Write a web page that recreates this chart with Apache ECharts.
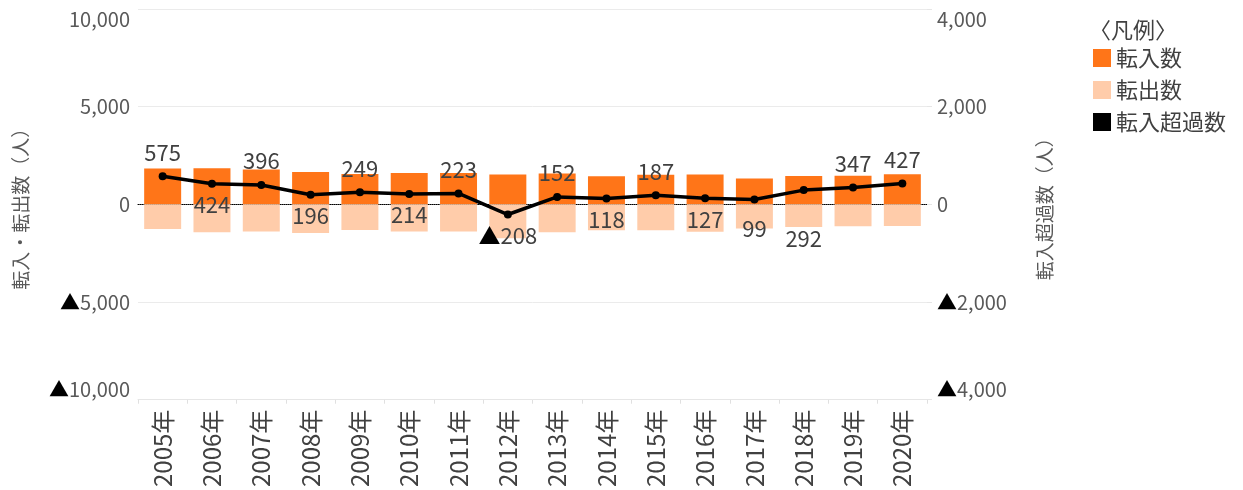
<!DOCTYPE html>
<html>
<head>
<meta charset="utf-8">
<style>
  html, body {
    margin: 0;
    padding: 0;
    background: #fff;
  }
  #main {
    width: 1243px;
    height: 490px;
  }
</style>
<script src="https://cdn.jsdelivr.net/npm/echarts@6/dist/echarts.min.js"></script>
</head>
<body>
<div id="main"></div>
<script>
  // 年別の転入・転出・転入超過
  var years = ['2005年', '2006年', '2007年', '2008年', '2009年', '2010年', '2011年', '2012年',
    '2013年', '2014年', '2015年', '2016年', '2017年', '2018年', '2019年', '2020年']
  var inflow = [1830, 1850, 1780, 1660, 1560, 1600, 1610, 1530, 1580, 1440, 1515, 1530, 1330, 1455, 1470, 1540]
  var outflow = [1255, 1426, 1384, 1464, 1311, 1386, 1387, 1738, 1428, 1322, 1328, 1403, 1231, 1163, 1123, 1113]
  var netMig = [575, 424, 396, 196, 249, 214, 223, -208, 152, 118, 187, 127, 99, 292, 347, 427]
  var leftTicks = [-10000, -5000, 0, 5000, 10000]
  var rightTicks = [-4000, -2000, 0, 2000, 4000]

  // ラベルの上下位置（見た目だけ）
  var labelPos = ['top', 'bottom', 'top', 'bottom', 'top', 'bottom', 'top', 'bottom',
    'top', 'bottom', 'top', 'bottom', 'bottom', 'bottom', 'top', 'top']
  var labelDist = [9, 6, 9, 6, 9, 6, 9, 6, 9, 6, 9, 6, 14, 34, 9, 9]

  var font = '"Noto Sans CJK JP", "Noto Sans", sans-serif'

  // マイナスは▲表記（▲だけ黒）
  function fmt(v) {
    var s = Math.abs(v).toLocaleString('en-US')
    return v < 0 ? '{t|▲}' + s : s
  }
  var tri = { t: { color: '#000', fontFamily: font } }

  var myChart = echarts.init(document.getElementById('main'))

  var option = {
    textStyle: { fontFamily: font },
    animation: false,
    title: {
      text: '〈凡例〉',
      left: 1084,
      top: 14,
      textStyle: { fontSize: 22, fontWeight: 'normal', color: '#404040', fontFamily: font }
    },
    legend: {
      orient: 'vertical',
      left: 1088,
      top: 42,
      icon: 'rect',
      itemWidth: 18,
      itemHeight: 18,
      itemGap: 10,
      textStyle: { fontSize: 22, color: '#404040', fontFamily: font },
      data: ['転入数', '転出数', '転入超過数']
    },
    grid: {
      left: 138,
      right: 316,
      top: 9,
      bottom: 89
    },
    xAxis: [
      {
        type: 'category',
        data: years,
        position: 'bottom',
        axisLine: { onZero: false, lineStyle: { color: '#E6E6E6' } },
        axisTick: { show: true, length: 4, lineStyle: { color: '#E0E0E0' } },
        axisLabel: { rotate: 90, fontSize: 24, color: '#404040', margin: 10, fontFamily: font }
      },
      {
        // 0の位置の点線
        type: 'category',
        data: years,
        position: 'top',
        axisLine: { onZero: true, onZeroAxisIndex: 0, lineStyle: { color: '#000', type: 'dotted', width: 1 } },
        axisTick: { show: false },
        axisLabel: { show: false }
      }
    ],
    yAxis: [
      {
        type: 'value',
        min: leftTicks[0],
        max: leftTicks[leftTicks.length - 1],
        interval: 5000,
        name: '転入・転出数（人）',
        nameLocation: 'middle',
        nameGap: 108,
        nameTextStyle: { fontSize: 19, color: '#595959', fontFamily: font },
        axisLine: { show: false },
        axisTick: { show: false },
        splitLine: { lineStyle: { color: '#EBEBEB' } },
        axisLabel: {
          fontSize: 20,
          color: '#595959',
          margin: 8,
          verticalAlignMaxLabel: 'top',
          verticalAlignMinLabel: 'bottom',
          formatter: fmt,
          rich: tri
        }
      },
      {
        type: 'value',
        min: rightTicks[0],
        max: rightTicks[rightTicks.length - 1],
        interval: 2000,
        name: '転入超過数（人）',
        nameLocation: 'middle',
        nameRotate: 90,
        nameGap: 108,
        nameTextStyle: { fontSize: 19, color: '#595959', fontFamily: font },
        axisLine: { show: false },
        axisTick: { show: true, length: 5, lineStyle: { color: '#E6E6E6' } },
        splitLine: { show: false },
        axisLabel: {
          fontSize: 20,
          color: '#595959',
          margin: 10,
          verticalAlignMaxLabel: 'top',
          verticalAlignMinLabel: 'bottom',
          formatter: fmt,
          rich: tri
        }
      }
    ],
    series: [
      {
        name: '転入数',
        type: 'bar',
        stack: 'move',
        barWidth: '75%',
        itemStyle: { color: '#FF7518' },
        data: inflow
      },
      {
        name: '転出数',
        type: 'bar',
        stack: 'move',
        barWidth: '75%',
        itemStyle: { color: '#FFCCAA' },
        data: outflow.map(function (v) { return -v })
      },
      {
        name: '転入超過数',
        type: 'line',
        yAxisIndex: 1,
        symbol: 'circle',
        symbolSize: 8,
        z: 5,
        lineStyle: { color: '#000', width: 3.5 },
        itemStyle: { color: '#000' },
        label: {
          show: true,
          fontSize: 22,
          color: '#404040',
          fontFamily: font,
          formatter: function (p) { return fmt(p.value) },
          rich: { t: { color: '#000', fontSize: 22, fontFamily: font } }
        },
        data: netMig.map(function (v, i) {
          return { value: v, label: { position: labelPos[i], distance: labelDist[i] } }
        })
      }
    ]
  }

  myChart.setOption(option)
</script>
</body>
</html>
